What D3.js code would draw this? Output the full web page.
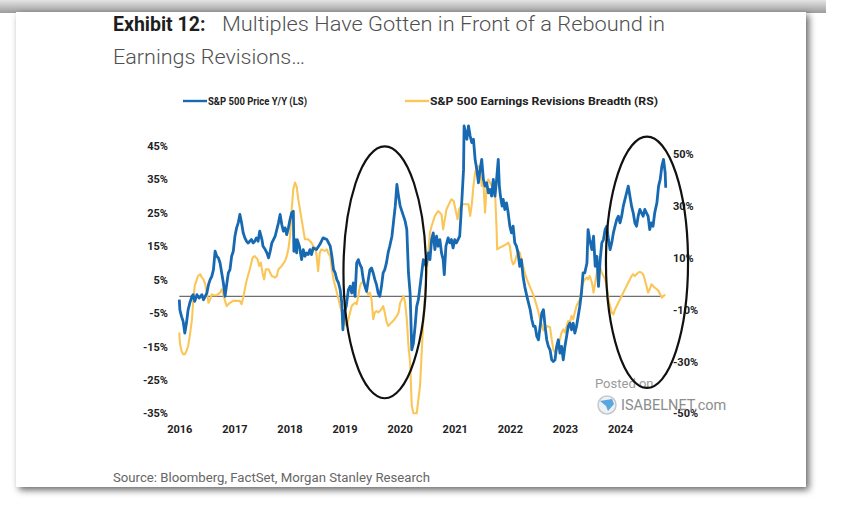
<!DOCTYPE html>
<html>
<head>
<meta charset="utf-8">
<script src="https://cdn.jsdelivr.net/npm/d3@7"></script>
<style>
  body { margin: 0; background: #fff; }
  svg { display: block; }
</style>
</head>
<body>
<svg></svg>
<script>
const title_bold = "Exhibit 12:";
const title_line1 = "Multiples Have Gotten in Front of a Rebound in";
const title_line2 = "Earnings Revisions…";
const source_text = "Source: Bloomberg, FactSet, Morgan Stanley Research";
const legend_labels = ["S&P 500 Price Y/Y (LS)", "S&P 500 Earnings Revisions Breadth (RS)"];

const year_ticks = [2016, 2017, 2018, 2019, 2020, 2021, 2022, 2023, 2024];
const left_ticks = [-35, -25, -15, -5, 5, 15, 25, 35, 45];
const right_ticks = [-50, -30, -10, 10, 30, 50];

// S&P 500 price y/y (left scale), decimal years
const priceDates = [
  2016.00,2016.01,2016.04,2016.07,2016.10,2016.13,2016.16,2016.19,2016.23,2016.25,
  2016.28,2016.32,2016.36,2016.41,2016.44,2016.47,2016.50,2016.53,2016.56,2016.59,
  2016.62,2016.65,2016.68,2016.71,2016.74,2016.77,2016.80,2016.83,2016.86,2016.89,
  2016.92,2016.95,2016.98,2017.01,2017.04,2017.07,2017.10,2017.13,2017.16,2017.19,
  2017.22,2017.25,2017.28,2017.31,2017.34,2017.37,2017.40,2017.43,2017.46,2017.50,
  2017.52,2017.56,2017.59,2017.62,2017.65,2017.68,2017.71,2017.74,2017.77,2017.80,
  2017.83,2017.86,2017.89,2017.92,2017.95,2017.98,2018.01,2018.04,2018.07,2018.08,
  2018.10,2018.13,2018.14,2018.18,2018.22,2018.25,2018.28,2018.31,2018.34,2018.37,
  2018.40,2018.43,2018.49,2018.55,2018.61,2018.68,2018.74,2018.77,2018.80,2018.83,
  2018.86,2018.89,2018.92,2018.95,2018.97,2018.99,2019.03,2019.07,2019.10,2019.13,
  2019.16,2019.19,2019.22,2019.25,2019.28,2019.31,2019.34,2019.37,2019.40,2019.43,
  2019.46,2019.49,2019.52,2019.55,2019.58,2019.61,2019.64,2019.67,2019.70,2019.73,
  2019.76,2019.79,2019.82,2019.86,2019.88,2019.92,2019.95,2019.98,2020.01,2020.04,
  2020.07,2020.10,2020.13,2020.16,2020.19,2020.22,2020.25,2020.28,2020.31,2020.34,
  2020.37,2020.43,2020.48,2020.52,2020.55,2020.58,2020.61,2020.64,2020.67,2020.70,
  2020.73,2020.76,2020.79,2020.81,2020.84,2020.88,2020.91,2020.94,2020.97,2021.00,
  2021.03,2021.06,2021.09,2021.13,2021.16,2021.17,2021.22,2021.25,2021.28,2021.31,
  2021.34,2021.37,2021.40,2021.43,2021.46,2021.49,2021.52,2021.55,2021.58,2021.61,
  2021.64,2021.67,2021.70,2021.73,2021.76,2021.79,2021.81,2021.83,2021.86,2021.88,
  2021.91,2021.94,2021.97,2022.00,2022.03,2022.06,2022.09,2022.12,2022.15,2022.18,
  2022.21,2022.24,2022.27,2022.31,2022.34,2022.37,2022.40,2022.43,2022.46,2022.49,
  2022.52,2022.55,2022.58,2022.61,2022.64,2022.67,2022.70,2022.73,2022.76,2022.79,
  2022.82,2022.85,2022.88,2022.91,2022.94,2022.97,2023.00,2023.03,2023.06,2023.09,
  2023.12,2023.15,2023.18,2023.21,2023.24,2023.27,2023.30,2023.33,2023.36,2023.40,
  2023.42,2023.45,2023.49,2023.52,2023.55,2023.58,2023.61,2023.64,2023.67,2023.70,
  2023.73,2023.76,2023.79,2023.82,2023.85,2023.88,2023.91,2023.94,2023.97,2024.00,
  2024.03,2024.06,2024.09,2024.12,2024.15,2024.18,2024.21,2024.24,2024.27,2024.30,
  2024.33,2024.36,2024.39,2024.42,2024.45,2024.48,2024.51,2024.54,2024.57,2024.60,
  2024.63,2024.67,2024.70,2024.73,2024.76,2024.79,2024.82,2024.83
];
const priceYoY = [
  -1.0,-4.0,-6.0,-7.5,-11.0,-8.0,-4.0,-2.0,0,0.5,
  -1.5,0.5,-0.5,0.5,-1.0,0,1.0,3.5,5.0,6.0,
  8.0,13.5,12.0,11.5,10.0,7.0,4.0,0,3.5,7.0,
  8.0,12.0,13.5,18.0,20.5,22.0,24.5,22.0,19.0,17.5,
  16.5,16.0,16.5,17.0,16.0,16.5,17.5,16.5,19.5,17.0,
  15.0,14.0,13.0,11.5,13.5,16.0,17.0,18.0,20.0,22.0,
  24.5,21.5,19.5,20.5,18.5,20.5,23.0,25.0,25.5,13.5,
  17.0,13.0,17.0,15.0,11.0,14.0,12.0,13.0,12.5,14.0,
  12.5,14.5,14.0,15.5,17.5,17.0,15.0,12.0,8.0,7.0,
  5.0,4.0,2.0,-2.0,-10.0,-5.0,-3.0,2.0,3.0,1.0,
  4.0,0,10.0,11.0,9.5,8.5,5.0,3.0,1.5,5.0,
  8.0,8.5,7.0,5.0,3.5,1.0,0,3.0,7.0,8.0,
  10.0,13.0,15.0,18.0,21.0,27.0,33.5,30.0,27.0,25.5,
  24.0,22.5,20.0,7.0,1.0,-16.0,-14.0,-9.0,-3.0,-1.0,
  3.0,11.0,9.0,13.0,11.0,17.0,19.0,14.0,18.0,15.0,
  17.0,13.0,11.0,6.5,15.0,17.5,16.0,17.0,14.5,17.0,
  16.0,17.0,18.0,29.0,38.0,51.0,47.0,51.0,48.0,46.0,
  47.0,41.0,38.0,34.0,38.0,41.0,35.0,33.0,34.0,31.0,
  32.0,30.0,35.0,30.0,35.0,41.0,33.0,30.0,27.0,29.0,
  26.0,28.0,25.0,21.0,19.0,21.0,16.0,15.0,13.0,9.0,
  11.0,6.0,3.0,0,-2.0,-4.0,-7.0,-9.0,-9.0,-12.0,
  -13.0,-9.0,-5.0,-4.0,-9.0,-13.0,-15.0,-16.0,-19.0,-19.5,
  -19.0,-15.0,-13.0,-17.0,-15.0,-19.0,-15.0,-12.0,-9.0,-8.0,
  -10.0,-8.0,-11.0,-9.0,-6.0,-3.0,1.0,7.0,7.0,10.0,
  20.0,17.0,14.0,18.0,9.0,12.0,3.0,11.0,16.0,17.0,
  20.0,21.0,17.0,14.0,16.0,19.0,21.0,23.0,24.0,22.0,
  24.0,27.0,29.0,31.0,33.0,30.0,27.0,25.0,22.0,21.0,
  24.0,26.0,25.0,24.0,26.0,25.0,24.0,20.0,22.0,21.0,
  25.0,28.0,33.0,35.0,39.0,41.0,37.0,32.5
];

// S&P 500 earnings revisions breadth (right scale)
const breadthDates = [
  2016.00,2016.01,2016.04,2016.07,2016.10,2016.13,2016.16,2016.19,2016.23,2016.25,
  2016.28,2016.32,2016.34,2016.38,2016.41,2016.44,2016.47,2016.50,2016.53,2016.56,
  2016.59,2016.62,2016.68,2016.74,2016.77,2016.80,2016.83,2016.86,2016.92,2016.98,
  2017.04,2017.10,2017.13,2017.16,2017.19,2017.22,2017.28,2017.33,2017.37,2017.42,
  2017.45,2017.48,2017.51,2017.54,2017.57,2017.62,2017.65,2017.68,2017.74,2017.77,
  2017.80,2017.86,2017.92,2017.95,2017.98,2018.01,2018.04,2018.07,2018.10,2018.13,
  2018.16,2018.19,2018.22,2018.25,2018.28,2018.34,2018.37,2018.40,2018.43,2018.46,
  2018.49,2018.52,2018.55,2018.58,2018.64,2018.68,2018.70,2018.74,2018.77,2018.80,
  2018.83,2018.86,2018.89,2018.92,2018.95,2018.98,2019.01,2019.04,2019.07,2019.10,
  2019.13,2019.16,2019.19,2019.22,2019.25,2019.28,2019.31,2019.34,2019.37,2019.40,
  2019.43,2019.46,2019.49,2019.52,2019.55,2019.58,2019.61,2019.64,2019.67,2019.70,
  2019.73,2019.76,2019.79,2019.82,2019.88,2019.95,2019.98,2020.01,2020.04,2020.07,
  2020.10,2020.13,2020.16,2020.19,2020.22,2020.25,2020.31,2020.37,2020.40,2020.43,
  2020.48,2020.52,2020.55,2020.58,2020.64,2020.70,2020.76,2020.79,2020.82,2020.85,
  2020.91,2020.94,2020.98,2021.02,2021.05,2021.08,2021.13,2021.19,2021.25,2021.28,
  2021.31,2021.34,2021.37,2021.40,2021.43,2021.46,2021.49,2021.52,2021.55,2021.58,
  2021.61,2021.64,2021.67,2021.70,2021.73,2021.76,2021.77,2021.82,2021.88,2021.94,
  2021.97,2022.00,2022.03,2022.06,2022.09,2022.12,2022.15,2022.18,2022.21,2022.24,
  2022.27,2022.31,2022.37,2022.43,2022.49,2022.55,2022.61,2022.67,2022.73,2022.76,
  2022.79,2022.82,2022.85,2022.88,2022.91,2022.94,2022.97,2023.00,2023.03,2023.06,
  2023.09,2023.12,2023.15,2023.18,2023.21,2023.24,2023.27,2023.30,2023.33,2023.36,
  2023.40,2023.42,2023.45,2023.49,2023.52,2023.55,2023.58,2023.61,2023.64,2023.67,
  2023.70,2023.73,2023.76,2023.79,2023.82,2023.85,2023.88,2023.91,2023.94,2023.97,
  2024.00,2024.03,2024.06,2024.09,2024.12,2024.15,2024.18,2024.21,2024.24,2024.27,
  2024.30,2024.33,2024.36,2024.39,2024.42,2024.45,2024.48,2024.51,2024.54,2024.57,
  2024.60,2024.63,2024.67,2024.70,2024.73,2024.76,2024.79,2024.82
];
const breadthPct = [
  -18.8,-22.7,-25.9,-27.2,-27.2,-25.9,-24.0,-20.2,-13.7,-7.3,
  -0.8,1.7,3.0,3.7,2.4,1.7,-0.2,-3.4,-7.3,-6.0,
  -4.1,-4.4,-4.4,-3.4,-2.1,-4.1,-6.6,-8.6,-7.3,-6.6,
  -6.6,-6.6,-7.9,-5.3,-2.1,1.1,5.6,10.1,10.7,9.5,
  6.9,8.2,4.3,1.7,5.6,5.6,4.3,3.0,2.4,3.0,
  5.6,6.9,8.8,10.7,13.3,18.5,28.8,36.5,39.1,37.6,
  32.6,28.8,24.9,21.0,17.2,17.2,16.5,15.9,14.6,14.0,
  11.4,4.9,12.0,13.3,12.7,13.3,12.0,10.7,5.6,1.7,
  -0.8,-3.4,-6.0,-8.6,-11.1,-13.7,-15.6,-16.3,-13.7,-11.1,
  -8.6,-7.9,-7.3,-7.9,-4.7,-0.8,0.5,0.5,-0.8,-2.8,
  -4.1,-3.4,-6.0,-13.7,-11.1,-10.5,-11.1,-10.5,-9.8,-8.6,
  -11.1,-14.4,-16.3,-15.6,-14.4,-12.4,-11.1,-7.3,-6.0,-4.7,
  -7.3,-13.7,-24.0,-30.4,-47.2,-50.0,-50.0,-39.3,-26.6,-13.7,
  1.7,12.0,19.8,22.3,26.2,28.1,26.8,21.0,24.9,28.8,
  31.4,32.6,32.0,28.1,24.9,28.8,30.7,30.7,30.7,26.2,
  30.7,37.8,42.9,44.9,45.5,44.2,37.8,39.1,27.5,38.4,
  40.3,39.1,37.8,39.1,36.5,21.0,13.3,14.0,14.6,15.3,
  15.9,14.6,9.5,7.5,8.2,10.7,12.7,12.0,9.5,6.9,
  4.3,1.7,-1.4,-4.4,-8.6,-13.7,-18.0,-16.3,-16.8,-21.4,
  -25.3,-26.6,-25.3,-24.0,-21.4,-18.8,-17.6,-18.8,-16.3,-14.4,
  -15.0,-12.4,-13.7,-11.1,-8.6,-7.3,-6.0,-2.1,0.5,1.7,
  2.4,1.7,3.0,0.5,-3.4,0.5,4.3,5.6,6.3,4.3,
  3.0,1.7,-0.8,-6.0,-8.6,-11.1,-11.8,-9.8,-8.6,-7.3,
  -6.0,-4.7,-3.4,-2.1,-0.8,0.5,1.7,3.0,3.7,3.0,
  3.7,4.3,4.6,4.3,3.7,1.7,-0.8,-3.4,-2.1,-0.2,
  -0.8,-1.5,-2.1,-2.8,-4.1,-5.3,-4.7,-4.1
];

// circled periods: centre date, centre value (LS), half width in years, half height in %
const circle_dates = [2019.73, 2024.49];
const circle_values = [7.2, 10.2];
const circle_half_years = [0.75, 0.745];
const circle_half_pct = [37.7, 37.6];

const width = 864, height = 509;
const blue = "#1769b2", gold = "#fbc658";
const font = "Roboto, 'Noto Sans', sans-serif";

const svg = d3.select("svg").attr("width", width).attr("height", height);

const defs = svg.append("defs");
const shadow = defs.append("filter").attr("id", "shadow")
  .attr("x", "-5%").attr("y", "-5%").attr("width", "110%").attr("height", "110%");
shadow.append("feDropShadow")
  .attr("dx", 3).attr("dy", 3).attr("stdDeviation", 3.5)
  .attr("flood-color", "#000").attr("flood-opacity", 0.6);

const topGrad = defs.append("linearGradient").attr("id", "topGrad")
  .attr("x1", 0).attr("y1", 0).attr("x2", 0).attr("y2", 1);
topGrad.append("stop").attr("offset", "0%").attr("stop-color", "#e4e4e4");
topGrad.append("stop").attr("offset", "100%").attr("stop-color", "#9c9c9c");

// page background + card
svg.append("rect").attr("x", 0).attr("y", 0).attr("width", 826).attr("height", 13)
  .attr("fill", "url(#topGrad)");
svg.append("rect")
  .attr("x", 16).attr("y", 12).attr("width", 790).attr("height", 475)
  .attr("fill", "#fff")
  .attr("filter", "url(#shadow)");

// title
svg.append("text").attr("x", 113).attr("y", 31)
  .style("font-family", font).style("font-size", "19.5px").style("font-weight", 700)
  .attr("fill", "#1e1e1e").text(title_bold);
svg.append("text").attr("x", 222).attr("y", 31)
  .attr("textLength", 443).attr("lengthAdjust", "spacingAndGlyphs")
  .style("font-family", font).style("font-size", "20.5px").style("font-weight", 300)
  .attr("fill", "#505050").text(title_line1);
svg.append("text").attr("x", 113).attr("y", 64)
  .attr("textLength", 192).attr("lengthAdjust", "spacingAndGlyphs")
  .style("font-family", font).style("font-size", "20.5px").style("font-weight", 300)
  .attr("fill", "#505050").text(title_line2);

// scales
const x_scale = d3.scaleLinear().domain([2016, 2024]).range([179.3, 620]);
const y_left = d3.scaleLinear().domain([-35, 45]).range([413.3, 146]);
const y_right = d3.scaleLinear().domain([-50, 50]).range([413.3, 154.3]);

// axes (labels only)
const styleAxis = (g) => {
  g.select(".domain").remove();
  g.selectAll("text")
    .style("font-family", font)
    .style("font-size", "11px")
    .style("font-weight", 700)
    .attr("fill", "#222");
};

svg.append("g").attr("transform", "translate(0,421)")
  .call(d3.axisBottom(x_scale).tickValues(year_ticks).tickSize(0).tickPadding(4).tickFormat(d3.format("d")))
  .call(styleAxis);

svg.append("g").attr("transform", "translate(168,0)")
  .call(d3.axisLeft(y_left).tickValues(left_ticks).tickSize(0).tickPadding(0).tickFormat((d) => d + "%"))
  .call(styleAxis);

svg.append("g").attr("transform", "translate(673,0)")
  .call(d3.axisRight(y_right).tickValues(right_ticks).tickSize(0).tickPadding(0).tickFormat((d) => d + "%"))
  .call(styleAxis);

// zero line of left scale
svg.append("line")
  .attr("x1", x_scale(2016)).attr("x2", x_scale(2024.8))
  .attr("y1", y_left(0)).attr("y2", y_left(0))
  .attr("stroke", "#6e6e6e").attr("stroke-width", 1.1);

// watermark
const wm = svg.append("g");
wm.append("text").attr("x", 595).attr("y", 388)
  .style("font-family", font).style("font-size", "13px").attr("fill", "#9a9a9a").text("Posted on");
wm.append("circle").attr("cx", 607).attr("cy", 405).attr("r", 9)
  .attr("fill", "#eef1f4").attr("stroke", "#c4c8cc").attr("stroke-width", 1.5);
wm.append("path").attr("d", "M600,401 L612,399 L614,404 L608,411 L606,406 Z")
  .attr("fill", "#5aa6e0");
wm.append("text").attr("x", 621).attr("y", 410)
  .style("font-family", font).style("font-size", "14.5px").attr("fill", "#8c8c8c").text("ISABELNET.com");

// lines
const breadth = breadthDates.map((d, i) => ({ t: d, v: breadthPct[i] }));
const price = priceDates.map((d, i) => ({ t: d, v: priceYoY[i] }));

const breadth_line = d3.line().x((d) => x_scale(d.t)).y((d) => y_right(d.v));
const price_line = d3.line().x((d) => x_scale(d.t)).y((d) => y_left(d.v));

svg.append("path")
  .attr("fill", "none").attr("stroke", gold).attr("stroke-width", 2.1)
  .attr("stroke-linejoin", "round")
  .attr("d", breadth_line(breadth));

svg.append("path")
  .attr("fill", "none").attr("stroke", blue).attr("stroke-width", 2.8)
  .attr("stroke-linejoin", "round")
  .attr("d", price_line(price));

// circles around the two periods
circle_dates.forEach((d, i) => {
  const cx = x_scale(d), cy = y_left(circle_values[i]);
  svg.append("ellipse")
    .attr("cx", cx).attr("cy", cy)
    .attr("rx", x_scale(d + circle_half_years[i]) - cx)
    .attr("ry", cy - y_left(circle_values[i] + circle_half_pct[i]))
    .attr("fill", "none").attr("stroke", "#111").attr("stroke-width", 2.2);
});

// legend
const legend_x = [183, 405];
const legend_w = [99, 228];
[blue, gold].forEach((c, i) => {
  svg.append("line")
    .attr("x1", legend_x[i]).attr("x2", legend_x[i] + 24)
    .attr("y1", 101).attr("y2", 101)
    .attr("stroke", c).attr("stroke-width", 2.4);
  svg.append("text")
    .attr("x", legend_x[i] + 25).attr("y", 105)
    .attr("textLength", legend_w[i]).attr("lengthAdjust", "spacingAndGlyphs")
    .style("font-family", font).style("font-size", "11px").style("font-weight", 700)
    .attr("fill", "#222")
    .text(legend_labels[i]);
});

// source
svg.append("text").attr("x", 113).attr("y", 482)
  .attr("textLength", 317).attr("lengthAdjust", "spacingAndGlyphs")
  .style("font-family", font).style("font-size", "12.5px")
  .attr("fill", "#666")
  .text(source_text);
</script>
</body>
</html>
